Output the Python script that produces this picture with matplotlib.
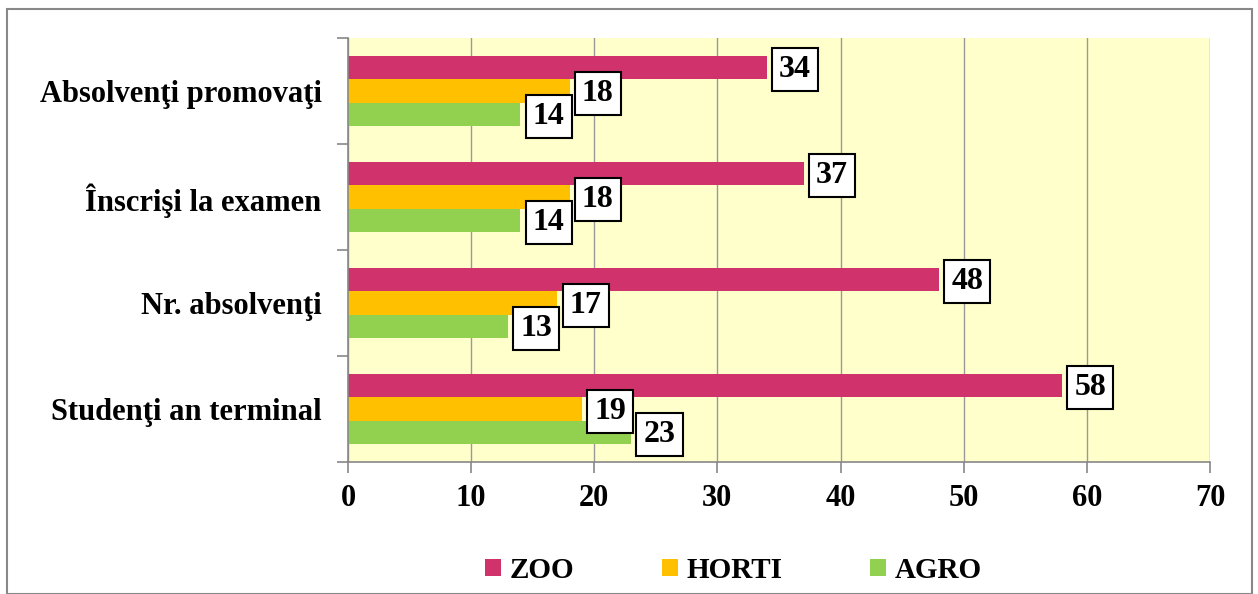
import matplotlib.pyplot as plt
import numpy as np
from matplotlib.patches import Rectangle

categories = ['Studenţi an terminal', 'Nr. absolvenţi',
              'Înscrişi la examen', 'Absolvenţi promovaţi']
zoo = [58, 48, 37, 34]
horti = [19, 17, 18, 18]
agro = [23, 13, 14, 14]

series = [('ZOO', zoo, '#D0336B'),
          ('HORTI', horti, '#FFC000'),
          ('AGRO', agro, '#92D050')]

plt.rcParams['font.family'] = ['Liberation Serif', 'DejaVu Serif']
plt.rcParams['font.weight'] = 'bold'

fig = plt.figure(figsize=(12.58, 5.94), dpi=100)
ax = fig.add_axes([0.2766, 0.2222, 0.6852, 0.7138])
ax.set_facecolor('#FFFFCC')

# outer chart frame
fig.patches.append(Rectangle(
    (7 / 1258, 0.0), 1245 / 1258, 1 - 9 / 594,
    transform=fig.transFigure, fill=False,
    edgecolor='#888888', lw=1.5))

y = np.arange(len(categories))
bar_h = 0.22
offsets = [bar_h, 0.0, -bar_h]

for (name, vals, color), off in zip(series, offsets):
    ax.barh(
        y + off, vals,
        height=bar_h,
        color=color,
        label=name,
        zorder=2)
    for yi, v in zip(y, vals):
        ax.text(
            v + 1.0, yi + off - 0.02,
            str(v),
            fontsize=23,
            fontweight='bold',
            va='center',
            ha='left',
            zorder=4,
            bbox=dict(boxstyle='square,pad=0.22',
                      facecolor='white',
                      edgecolor='black',
                      lw=1.5))

ax.set_xlim(0, 70)
ax.set_ylim(-0.5, len(categories) - 0.5)
ax.set_xticks(np.arange(0, 71, 10))
ax.set_yticks(y)
ax.set_yticklabels(categories)
ax.set_yticks(np.arange(-0.5, len(categories), 1), minor=True)

ax.grid(axis='x', color='#999999', lw=1, zorder=0)
ax.set_axisbelow(True)

for side in ['top', 'right']:
    ax.spines[side].set_visible(False)
for side in ['left', 'bottom']:
    ax.spines[side].set_color('#888888')
    ax.spines[side].set_linewidth(1.2)

ax.tick_params(
    axis='x',
    colors='#888888',
    labelcolor='black',
    labelsize=22,
    length=8,
    width=1.2,
    direction='out',
    pad=8)
ax.tick_params(
    axis='y',
    which='major',
    length=0,
    labelsize=22,
    labelcolor='black',
    pad=19)
ax.tick_params(
    axis='y',
    which='minor',
    colors='#888888',
    length=8,
    width=1.2,
    direction='out')

for lbl in ax.get_xticklabels() + ax.get_yticklabels():
    lbl.set_fontweight('bold')

handles, labels = ax.get_legend_handles_labels()
fig.legend(
    handles, labels,
    loc='center',
    bbox_to_anchor=(0.583, 0.04),
    ncol=3,
    frameon=False,
    handlelength=0.55,
    handleheight=0.55,
    handletextpad=0.3,
    columnspacing=3.0,
    prop={'size': 21, 'weight': 'bold'})

plt.savefig('out.png', dpi=100)
plt.close(fig)
